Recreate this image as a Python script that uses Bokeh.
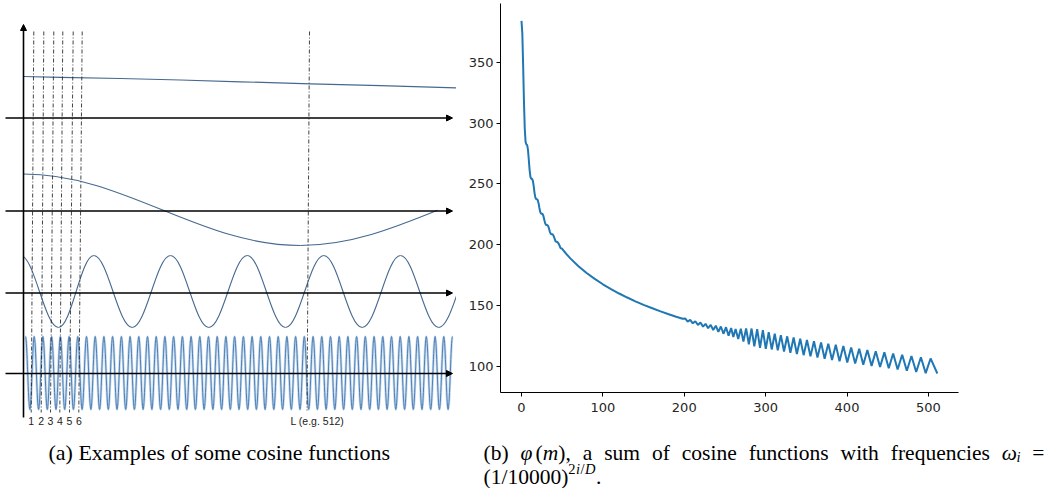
from bokeh.plotting import figure
from bokeh.layouts import row, column
from bokeh.models import Range1d, FixedTicker, Arrow, NormalHead
from bokeh.embed import file_html
from bokeh.resources import INLINE
from bokeh.core.properties import value

# ======================= DATA =======================
# Panel (b): phi(m)
m_vals = [0, 1, 2, 3, 4, 5, 6, 7, 8, 9, 10, 11, 12, 13, 14, 15, 16, 17, 18, 19, 20,
          21, 22, 23, 24, 25, 26, 27, 28, 29, 30, 31, 32, 33, 34, 35, 36, 37, 38, 39, 40,
          42, 44, 46, 48, 50, 55, 60, 70, 80, 90, 100, 110, 120, 130, 140, 150, 160, 170,
          180, 190, 198,
          201.1, 204.2, 207.3, 210.5, 213.6, 216.8, 219.9, 223.1, 226.2, 229.3, 232.5,
          235.6, 238.8, 241.9, 245.0, 248.2, 251.3, 254.5, 257.6, 260.3,
          263.1, 266.3, 269.5, 272.7, 276.0, 279.4, 282.7, 286.1, 289.6, 293.1, 296.6,
          300.2, 303.8, 307.5, 311.2, 314.9, 318.7, 322.6, 326.5, 330.4, 334.4, 338.4,
          342.5, 346.7, 350.8, 355.1, 359.4, 363.7, 368.1, 372.5, 377.0, 381.6, 386.2,
          390.8, 395.5, 400.3, 405.1, 410.0, 415.0, 420.0, 425.0, 430.2, 435.3, 440.6,
          445.9, 451.3, 456.7, 462.2, 467.8, 473.5, 479.2, 485.0, 490.8, 496.7, 502.7, 511]
phi_vals = [384.0, 373.8, 348.0, 318.1, 295.5, 284.5, 282.4, 281.9, 277.7, 269.6, 261.1,
            255.7, 254.2, 254.1, 252.4, 248.1, 242.6, 238.9, 237.4, 237.4, 236.6,
            233.9, 230.1, 226.9, 225.5, 225.5, 225.1, 223.4, 220.5, 217.7, 216.4,
            216.2, 216.0, 214.9, 212.7, 210.3, 208.8, 208.5, 208.6, 207.8, 206.1,
            202.5, 202.2, 200.4, 197.1, 196.6, 192.4, 188.7, 182.3, 176.7, 171.8, 167.4,
            163.5, 159.8, 156.5, 153.4, 150.5, 147.9, 145.3, 143.0, 140.7, 139.0,
            139.3, 136.7, 138.1, 135.3, 137.0, 134.0, 135.9, 132.6, 134.9, 131.3, 134.0,
            129.8, 133.3, 128.2, 132.7, 126.7, 132.1, 125.2, 131.4, 124.1,
            130.7, 122.4, 130.9, 120.2, 131.1, 118.1, 131.0, 116.4, 130.5, 115.1, 129.6,
            114.3, 128.1, 113.8, 126.7, 113.1, 125.6, 112.1, 124.6, 111.1, 123.6, 110.1,
            122.6, 109.1, 121.6, 108.1, 120.6, 107.1, 119.6, 106.1, 118.6, 105.1, 117.6,
            104.1, 116.6, 103.1, 115.4, 102.3, 114.4, 101.3, 113.4, 100.3, 112.4, 99.3,
            111.4, 98.3, 110.4, 97.3, 109.4, 96.3, 108.4, 95.3, 107.4, 94.3, 106.4, 94.0]
x_ticks_b = [0, 100, 200, 300, 400, 500]
y_ticks_b = [100, 150, 200, 250, 300, 350]

# Panel (a): schematic cosine curves, in the diagram's own coordinates
wave1_x = [23, 60, 120, 180, 240, 310, 380, 456]
wave1_y = [76.0, 76.8, 78.0, 79.5, 81.3, 83.3, 85.2, 87.3]

wave2_ext_x = [23, 300, 577]
wave2_ext_y = [173.5, 245.0, 173.5]

wave3_ext_x = [20.0, 58.0, 93.3, 131.7, 170.0, 208.3, 246.7, 285.0, 323.3, 361.7, 400.0, 438.3, 476.7]
wave3_ext_y = [255, 327, 255, 327, 255, 327, 255, 327, 255, 327, 255, 327, 255]

wave4_ext_x = [25.0, 29.4, 33.7, 38.1, 42.4, 46.8, 51.1, 55.5, 59.9, 64.2, 68.6, 72.9, 77.3,
               81.6, 86.0, 90.4, 94.7, 99.1, 103.4, 107.8, 112.1, 116.5, 120.9, 125.2, 129.6,
               133.9, 138.3, 142.6, 147.0, 151.4, 155.7, 160.1, 164.4, 168.8, 173.1, 177.5,
               181.9, 186.2, 190.6, 194.9, 199.3, 203.6, 208.0, 212.4, 216.7, 221.1, 225.4,
               229.8, 234.1, 238.5, 242.9, 247.2, 251.6, 255.9, 260.3, 264.6, 269.0, 273.3,
               277.7, 282.1, 286.4, 290.8, 295.1, 299.5, 303.8, 308.2, 312.6, 316.9, 321.3,
               325.6, 330.0, 334.3, 338.7, 343.1, 347.4, 351.8, 356.1, 360.5, 364.8, 369.2,
               373.6, 377.9, 382.3, 386.6, 391.0, 395.3, 399.7, 404.1, 408.4, 412.8, 417.1,
               421.5, 425.8, 430.2, 434.6, 438.9, 443.3, 447.6, 452.0]
wave4_ext_y = [336, 409] * 49 + [336]

axis_rows_y = [117.5, 210.5, 292.5, 373.0]
position_labels = ["1", "2", "3", "4", "5", "6"]
position_x_top = [33.3, 43.3, 53.3, 62.3, 72.7, 81.7]
position_x_bottom = [30.7, 40.7, 50.0, 59.3, 69.0, 78.3]
long_label = "L (e.g. 512)"
long_x_top = 309.0
long_x_bottom = 306.5

caption_a = "(a) Examples of some cosine functions"

# ======================= HELPERS =======================
def bez_point(P, s):
    u = 1 - s
    return (u**3 * P[0][0] + 3 * u * u * s * P[1][0] + 3 * u * s * s * P[2][0] + s**3 * P[3][0],
            u**3 * P[0][1] + 3 * u * u * s * P[1][1] + 3 * u * s * s * P[2][1] + s**3 * P[3][1])


def bez_split(P, s):
    lerp = lambda a, b: (a[0] + (b[0] - a[0]) * s, a[1] + (b[1] - a[1]) * s)
    p01, p12, p23 = lerp(P[0], P[1]), lerp(P[1], P[2]), lerp(P[2], P[3])
    p012, p123 = lerp(p01, p12), lerp(p12, p23)
    m = lerp(p012, p123)
    return [P[0], p01, p012, m], [m, p123, p23, P[3]]


def bez_solve(P, xc):
    lo, hi = 0.0, 1.0
    for _ in range(50):
        mid = (lo + hi) / 2
        if bez_point(P, mid)[0] < xc:
            lo = mid
        else:
            hi = mid
    return (lo + hi) / 2


def wave_beziers(ext_x, ext_y, x_lo, x_hi, a=0.364):
    out = {k: [] for k in ("x0", "y0", "x1", "y1", "cx0", "cy0", "cx1", "cy1")}
    for i in range(len(ext_x) - 1):
        xa, xb, ya, yb = ext_x[i], ext_x[i + 1], ext_y[i], ext_y[i + 1]
        if xb <= x_lo or xa >= x_hi:
            continue
        d = xb - xa
        P = [(xa, ya), (xa + a * d, ya), (xb - a * d, yb), (xb, yb)]
        if xa < x_lo:
            P = bez_split(P, bez_solve(P, x_lo))[1]
        if xb > x_hi:
            P = bez_split(P, bez_solve(P, x_hi))[0]
        out["x0"].append(P[0][0]); out["y0"].append(P[0][1])
        out["cx0"].append(P[1][0]); out["cy0"].append(P[1][1])
        out["cx1"].append(P[2][0]); out["cy1"].append(P[2][1])
        out["x1"].append(P[3][0]); out["y1"].append(P[3][1])
    return out


W_REG = {' ': 250, '(': 333, ')': 333, ',': 250, '.': 250, '/': 278, '=': 564,
         'a': 444, 'b': 500, 'c': 444, 'e': 444, 'f': 333, 'h': 500, 'i': 278, 'l': 278,
         'm': 778, 'n': 500, 'o': 500, 'p': 500, 'q': 500, 'r': 333, 's': 389, 't': 278,
         'u': 500, 'w': 722, 'x': 500, 'E': 611}
W_IT = {'m': 722, 'i': 278, 'D': 722, 'φ': 700, 'ω': 680}


def piece_w(txt, italic, size):
    tot = 0
    for ch in txt:
        if ch.isdigit():
            tot += 500
        elif italic and ch in W_IT:
            tot += W_IT[ch]
        else:
            tot += W_REG.get(ch, 500)
    return tot * size / 1000.0


def draw_texts(fig, groups):
    for (it, sz), (xs, ys, ts) in groups.items():
        fig.text(x=xs, y=ys, text=ts, text_align="left", text_baseline="alphabetic",
                 text_font=value("Liberation Serif"), text_font_size=f"{sz}px",
                 text_font_style="italic" if it else "normal", text_color="black")


def put(groups, x, y, txt, italic, size):
    g = groups.setdefault((italic, size), ([], [], []))
    g[0].append(x); g[1].append(y); g[2].append(txt)


FS = 21.5
SUB = 14.5
BASE1, BASE2 = 452, 476

# ======================= PANEL (a) =======================
pa = figure(width=456, height=488, x_range=Range1d(0, 456), y_range=Range1d(488, 0),
            output_backend="svg", toolbar_location=None, title=None,
            x_axis_location=None, y_axis_location=None, min_border=0)
pa.grid.visible = False
pa.outline_line_color = None

WAVE_COL = "#46698f"
pa.line(wave1_x, wave1_y, line_color=WAVE_COL, line_width=1.2)
pa.bezier(**wave_beziers(wave2_ext_x, wave2_ext_y, 23, 437), line_color=WAVE_COL, line_width=1.1)
pa.bezier(**wave_beziers(wave3_ext_x, wave3_ext_y, 23, 456), line_color=WAVE_COL, line_width=1.1)
w4 = wave_beziers(wave4_ext_x, wave4_ext_y, 25, 452)
pa.bezier(**w4, line_color="#b7cfe8", line_width=2.6, line_alpha=0.8)
pa.bezier(**w4, line_color="#4d7fb5", line_width=1.0)

pa.segment(x0=position_x_top, y0=[31] * 6, x1=position_x_bottom, y1=[412] * 6,
           line_color="#222222", line_width=1, line_dash="4 2 1 2", line_alpha=0.85)
pa.segment(x0=[long_x_top], y0=[31], x1=[long_x_bottom], y1=[410],
           line_color="#222222", line_width=1, line_dash="4 2 1 2", line_alpha=0.85)

for yy in axis_rows_y:
    pa.add_layout(Arrow(end=NormalHead(size=6, line_color="black", fill_color="black", line_width=1),
                        x_start=5, y_start=yy, x_end=452, y_end=yy,
                        line_color="black", line_width=1.6))
pa.add_layout(Arrow(end=NormalHead(size=6, line_color="black", fill_color="black", line_width=1),
                    x_start=23, y_start=417, x_end=23, y_end=24,
                    line_color="black", line_width=1.6))

pa.text(x=position_x_bottom, y=[420] * 6, text=position_labels, text_align="center",
        text_baseline="middle", text_font=value("Liberation Sans"), text_font_size="10.5px",
        text_color="#222222")
pa.text(x=[290], y=[420], text=[long_label], text_align="left", text_baseline="middle",
        text_font=value("Liberation Sans"), text_font_size="10.5px", text_color="#222222")

groups_a = {}
put(groups_a, 48, BASE1, caption_a, False, 22)
draw_texts(pa, groups_a)

# ======================= PANEL (b) =======================
pb = figure(width=591, height=422, x_range=Range1d(-25.8, 537), y_range=Range1d(78.4, 398.3),
            output_backend="svg", toolbar_location=None, title=None,
            min_border_left=44, min_border_right=89, min_border_top=3, min_border_bottom=30)
pb.grid.visible = False
pb.outline_line_color = None
pb.line(m_vals, phi_vals, line_color="#1f77b4", line_width=2)
pb.xaxis.ticker = FixedTicker(ticks=x_ticks_b)
pb.yaxis.ticker = FixedTicker(ticks=y_ticks_b)
for ax in (pb.xaxis[0], pb.yaxis[0]):
    ax.axis_line_color = "black"
    ax.axis_line_width = 1
    ax.major_tick_line_color = "black"
    ax.major_tick_out = 4
    ax.major_tick_in = 0
    ax.minor_tick_line_color = None
    ax.major_label_text_font = "DejaVu Sans"
    ax.major_label_text_font_size = "13px"
    ax.major_label_text_color = "#262626"
pb.xaxis.major_label_standoff = 6
pb.yaxis.major_label_standoff = 3

# caption (b)
pcb = figure(width=591, height=66, x_range=Range1d(456, 1047), y_range=Range1d(488, 422),
             output_backend="svg", toolbar_location=None, title=None,
             x_axis_location=None, y_axis_location=None, min_border=0)
pcb.grid.visible = False
pcb.outline_line_color = None

line_b = [
    [("(b)", False, FS, 0)],
    [("φ", True, FS, 0), ("(", False, FS, 0), ("m", True, FS, 0), ("),", False, FS, 0)],
    [("a", False, FS, 0)], [("sum", False, FS, 0)], [("of", False, FS, 0)],
    [("cosine", False, FS, 0)], [("functions", False, FS, 0)], [("with", False, FS, 0)],
    [("frequencies", False, FS, 0)],
    [("ω", True, FS, 0), ("i", True, SUB, 4)],
    [("=", False, FS, 0)],
]
left, right = 483, 1044
groups_b = {}
word_w = [sum(piece_w(t, it, sz) for t, it, sz, _ in w) for w in line_b]
gap = (right - left - sum(word_w)) / (len(line_b) - 1)
xcur = left
for w, ww in zip(line_b, word_w):
    xx = xcur
    for t, it, sz, dy in w:
        put(groups_b, xx, BASE1 + dy, t, it, sz)
        xx += piece_w(t, it, sz)
    xcur += ww + gap

line2 = [("(1/10000)", False, FS, 0), ("2", False, SUB, -8), ("i", True, SUB, -8),
         ("/", False, SUB, -8), ("D", True, SUB, -8), (".", False, FS, 0)]
xx = left
for t, it, sz, dy in line2:
    put(groups_b, xx, BASE2 + dy, t, it, sz)
    xx += piece_w(t, it, sz) + (0.5 if sz == SUB else 0)
draw_texts(pcb, groups_b)

layout = row(pa, column(pb, row(pcb)))
open("out.html", "w").write(file_html(layout, INLINE))
